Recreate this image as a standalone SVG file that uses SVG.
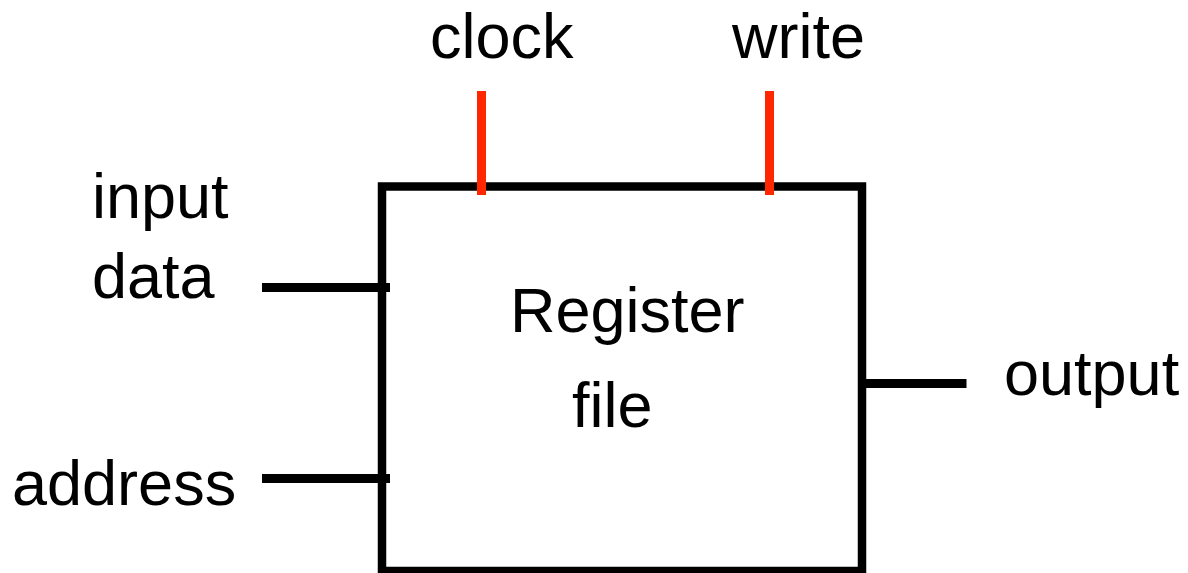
<svg xmlns="http://www.w3.org/2000/svg" width="1188" height="573" viewBox="0 0 1188 573">
  <style>
    .lbl { font-family: "Liberation Sans", Arial, Helvetica, sans-serif; font-size: 63px; fill: #000; }
    .wire { stroke: #000; stroke-width: 9; fill: none; }
    .ctl { stroke: #ff2600; stroke-width: 9; fill: none; }
    .box { stroke: #000; stroke-width: 8.5; fill: #fff; }
  </style>
  <rect width="1188" height="573" fill="#fff"/>

  <!-- Register file block -->
  <g id="register-file">
    <rect class="box" x="382" y="186.5" width="480" height="384.5"/>
    <text class="lbl" x="510" y="332">Register</text>
    <text class="lbl" x="572" y="427">file</text>
  </g>

  <!-- Signal lines into and out of the block -->
  <g id="connectors">
    <line class="wire" x1="262" y1="287.5" x2="390" y2="287.5"/>
    <line class="wire" x1="262" y1="478.5" x2="390" y2="478.5"/>
    <line class="wire" x1="862" y1="383.5" x2="966.5" y2="383.5"/>
    <line class="ctl" x1="481.5" y1="91" x2="481.5" y2="195"/>
    <line class="ctl" x1="769.5" y1="91" x2="769.5" y2="195"/>
  </g>

  <g id="input-data">
    <text class="lbl" x="92" y="218">input</text>
    <text class="lbl" x="92" y="298">data</text>
  </g>
  <g id="address">
    <text class="lbl" x="12" y="505">address</text>
  </g>
  <g id="clock">
    <text class="lbl" x="430" y="58">clock</text>
  </g>
  <g id="write">
    <text class="lbl" x="732" y="58">write</text>
  </g>
  <g id="output">
    <text class="lbl" x="1004" y="395">output</text>
  </g>
</svg>
